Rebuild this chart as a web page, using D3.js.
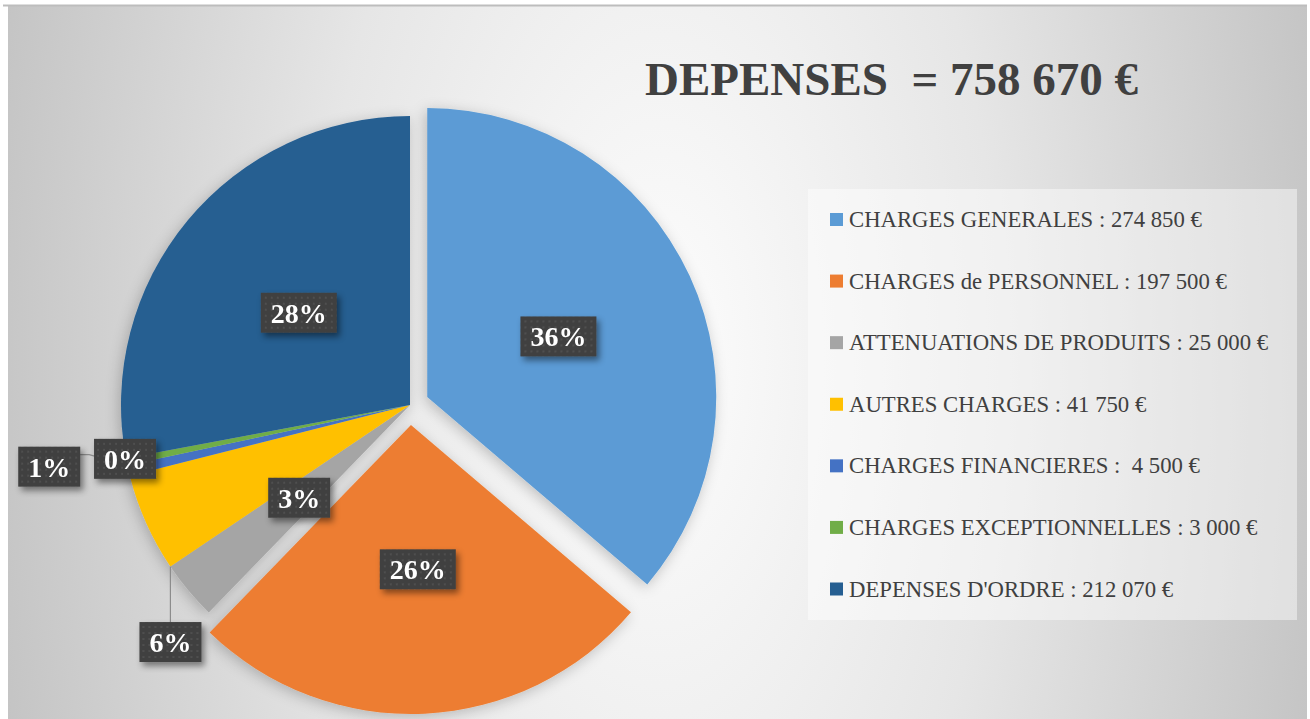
<!DOCTYPE html>
<html>
<head>
<meta charset="utf-8">
<script src="https://cdn.jsdelivr.net/npm/d3@7"></script>
<style>
  body { margin: 0; background: #fff; }
  text { font-family: "Liberation Serif", "DejaVu Serif", serif; white-space: pre; }
</style>
</head>
<body>
<svg id="chart"></svg>
<script>
// data
const categories = ["CHARGES GENERALES", "CHARGES de PERSONNEL", "ATTENUATIONS DE PRODUITS",
    "AUTRES CHARGES", "CHARGES FINANCIERES", "CHARGES EXCEPTIONNELLES", "DEPENSES D'ORDRE"];
const values = [274850, 197500, 25000, 41750, 4500, 3000, 212070];
const legendSeparators = [" : ", " : ", " : ", " : ", " :  ", " : ", " : "];
const titleLabel = "DEPENSES  = ";
const colors = ["#5B9BD5", "#ED7D31", "#A5A5A5", "#FFC000", "#4472C4", "#70AD47", "#255E91"];

// layout
const width = 1310, height = 719;
const cx = 410, cy = 405, R = 289;
const explode = [19, 20, 0, 0, 0, 0, 0];
// outside labels: [angle in degrees clockwise from 12 o'clock, distance from centre]
const outsideLabels = [null, null, null, [225.3, 337], [260.3, 366], [259.3, 290], null];

const locale = d3.formatLocale({ decimal: ",", thousands: " ", grouping: [3], currency: ["", " €"] });
const fmt = locale.format(",");
const total = d3.sum(values);
const data = categories.map((c, i) => ({ name: c, value: values[i], color: colors[i], i: i }));

const svg = d3.select("#chart").attr("width", width).attr("height", height);
const defs = svg.append("defs");

const bg = defs.append("radialGradient")
    .attr("id", "bg")
    .attr("gradientUnits", "userSpaceOnUse")
    .attr("cx", 660).attr("cy", 360).attr("r", 680)
    .attr("gradientTransform", "translate(660,360) scale(1,2) translate(-660,-360)");
bg.append("stop").attr("offset", 0).attr("stop-color", "#fdfdfd");
bg.append("stop").attr("offset", 0.5).attr("stop-color", "#e6e6e6");
bg.append("stop").attr("offset", 1).attr("stop-color", "#c4c4c4");

const dots = defs.append("pattern")
    .attr("id", "dots")
    .attr("patternUnits", "userSpaceOnUse")
    .attr("width", 6).attr("height", 6);
dots.append("rect").attr("width", 6).attr("height", 6).attr("fill", "#404040");
dots.append("rect").attr("x", 2).attr("y", 2).attr("width", 2).attr("height", 2).attr("fill", "#4f4f4f");

defs.append("filter").attr("id", "pieShadow")
    .attr("x", -0.2).attr("y", -0.2).attr("width", 1.4).attr("height", 1.4)
    .append("feDropShadow")
    .attr("dx", -2).attr("dy", 3).attr("stdDeviation", 7)
    .attr("flood-color", "#000").attr("flood-opacity", 0.22);

defs.append("filter").attr("id", "boxShadow")
    .attr("x", -0.3).attr("y", -0.3).attr("width", 1.6).attr("height", 1.7)
    .append("feDropShadow")
    .attr("dx", 3).attr("dy", 4).attr("stdDeviation", 3)
    .attr("flood-color", "#000").attr("flood-opacity", 0.45);

// background of the chart area
svg.append("rect")
    .attr("x", 8).attr("y", 5)
    .attr("width", 1299).attr("height", height - 5)
    .attr("fill", "url(#bg)");
svg.append("line")
    .attr("x1", 3).attr("x2", 1307)
    .attr("y1", 5.5).attr("y2", 5.5)
    .attr("stroke", "#bdbdbd").attr("stroke-width", 2);

// title
const title = svg.append("text")
    .attr("x", 645).attr("y", 95)
    .attr("fill", "#404040")
    .style("font-weight", "bold")
    .style("font-size", "48px")
    .text(titleLabel + fmt(total) + " €");
const tw = title.node().getComputedTextLength();
if (tw > 0) title.style("font-size", (48 * 493 / tw) + "px");

// pie
const pie = d3.pie().sort(null).value(d => d.value).startAngle(0).endAngle(2 * Math.PI);
const arcs = pie(data);
const arc = d3.arc().innerRadius(0).outerRadius(R);

function shift(d) {
    const a = (d.startAngle + d.endAngle) / 2;
    const e = explode[d.index];
    return [Math.sin(a) * e, -Math.cos(a) * e];
}

const pieG = svg.append("g")
    .attr("transform", "translate(" + cx + "," + cy + ")")
    .attr("filter", "url(#pieShadow)");

pieG.selectAll("path")
    .data(arcs)
    .enter()
    .append("path")
    .attr("transform", d => "translate(" + shift(d) + ")")
    .attr("d", arc)
    .attr("fill", d => d.data.color);

// data labels
const labelG = svg.append("g").attr("transform", "translate(" + cx + "," + cy + ")");

const labels = arcs.map(d => {
    const o = outsideLabels[d.index];
    let x, y;
    if (o) {
        const a = o[0] * Math.PI / 180;
        x = Math.sin(a) * o[1];
        y = -Math.cos(a) * o[1];
    } else {
        const a = (d.startAngle + d.endAngle) / 2;
        const s = shift(d);
        x = s[0] + Math.sin(a) * R * 0.5;
        y = s[1] - Math.cos(a) * R * 0.5;
    }
    return { d: d, x: x, y: y, outside: !!o, text: Math.round(d.data.value / total * 100) + "%" };
});

// leader lines for outside labels
labels.filter(l => l.outside).forEach(l => {
    const d = l.d;
    const la = Math.atan2(l.x, -l.y) < 0 ? Math.atan2(l.x, -l.y) + 2 * Math.PI : Math.atan2(l.x, -l.y);
    const ta = Math.max(d.startAngle, Math.min(d.endAngle, la));
    const tx = Math.sin(ta) * R, ty = -Math.cos(ta) * R;
    if (Math.hypot(tx - l.x, ty - l.y) < 40) return;
    let pts;
    if (Math.abs(tx - l.x) < 30) {
        pts = [[tx, l.y - 20], [tx, ty]];
    } else {
        pts = [[l.x + 30, l.y - 12], [l.x + 40, l.y - 12], [tx, ty]];
    }
    labelG.append("path")
        .attr("d", d3.line()(pts))
        .attr("fill", "none")
        .attr("stroke", "#8c8c8c")
        .attr("stroke-width", 1.2);
});

const lab = labelG.selectAll(".lab")
    .data(labels)
    .enter()
    .append("g")
    .attr("class", "lab")
    .attr("transform", l => "translate(" + l.x + "," + l.y + ")");

lab.append("rect").attr("class", "box");
lab.append("text")
    .attr("text-anchor", "middle")
    .attr("y", 10)
    .attr("fill", "#fff")
    .style("font-weight", "bold")
    .style("font-size", "28px")
    .text(l => l.text);

lab.each(function() {
    const g = d3.select(this);
    const w = g.select("text").node().getComputedTextLength() + 20;
    g.select("rect")
        .attr("x", -w / 2).attr("y", -20)
        .attr("width", w).attr("height", 40)
        .attr("fill", "url(#dots)")
        .attr("filter", "url(#boxShadow)");
});

// legend
svg.append("rect")
    .attr("x", 808).attr("y", 189)
    .attr("width", 489).attr("height", 431)
    .attr("fill", "#fff").attr("fill-opacity", 0.45);

const ly = d3.scalePoint().domain(categories).range([219.5, 589]);

const leg = svg.selectAll(".leg")
    .data(data)
    .enter()
    .append("g")
    .attr("class", "leg")
    .attr("transform", d => "translate(830," + ly(d.name) + ")");

leg.append("rect")
    .attr("x", 0).attr("y", -6.5)
    .attr("width", 13).attr("height", 13)
    .attr("fill", d => d.color);

const legText = leg.append("text")
    .attr("x", 19).attr("y", 7.5)
    .attr("fill", "#404040")
    .style("font-size", "23px")
    .text(d => d.name + legendSeparators[d.i] + fmt(d.value) + " €");

const lw = legText.node().getComputedTextLength();
if (lw > 0) legText.style("font-size", (23 * 353 / lw) + "px");
</script>
</body>
</html>
